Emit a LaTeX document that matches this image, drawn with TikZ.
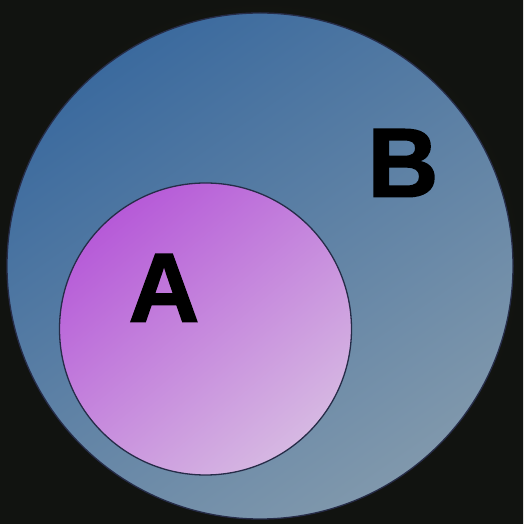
\documentclass[tikz,border=0pt]{standalone}
\usepackage{fontspec}
\setmainfont{Liberation Sans}
\newfontfamily\heavyfont[BoldFeatures={FakeBold=1.6}]{Liberation Sans}
\usepackage{tikz}
\usetikzlibrary{positioning}

\definecolor{bgdark}{HTML}{111310}
\definecolor{bgbrown}{HTML}{2E281C}
\definecolor{blueA}{HTML}{3B6A9E}
\definecolor{blueB}{HTML}{8098AC}
\definecolor{purpleA}{HTML}{B65AD8}
\definecolor{purpleB}{HTML}{D6B8E2}
\definecolor{rim}{HTML}{262C48}

\begin{document}
\begin{tikzpicture}[
  x=1pt, y=1pt,
  setbig/.style={circle, draw=rim, line width=1.3pt, minimum size=506pt, inner sep=0pt,
    shading=axis, top color=blueA, bottom color=blueB, shading angle=35},
  setsmall/.style={circle, draw=rim, line width=1.3pt, minimum size=292pt, inner sep=0pt,
    shading=axis, top color=purpleA, bottom color=purpleB, shading angle=40},
  letter/.style={inner sep=0pt, font=\heavyfont\fontsize{98}{98}\selectfont\bfseries, text=black}
]
\useasboundingbox (0,0) rectangle (523,524);
% dark photo behind the sets
\shade[inner color=bgbrown, outer color=bgdark] (0,0) rectangle (523,524);

\node[setbig] (setB) at (260,258) {};
\node[setsmall] (setA) at (205.5,195) {};

\node[letter] (labB) at (403,361) {B};
\node[letter] (labA) at (164,236) {A};
\end{tikzpicture}
\end{document}
